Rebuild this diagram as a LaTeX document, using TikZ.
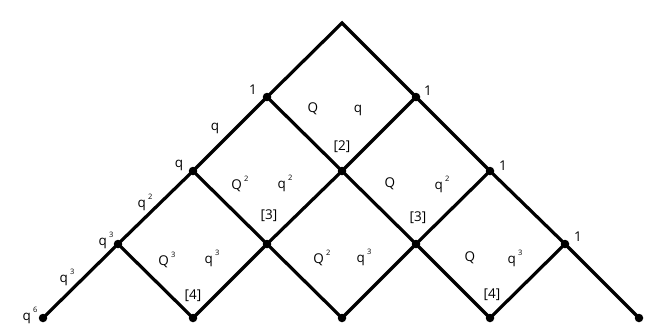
\documentclass[tikz,border=0pt]{standalone}
\usepackage{fontspec}
\setmainfont{Open Sans}
\newcommand\sps[1]{\,\raisebox{0.6em}{\fontsize{7.5}{8}\selectfont #1}}
\begin{document}
\begin{tikzpicture}[x=1pt,y=-1pt,
  edge/.style={line width=3.2pt,line cap=round,line join=miter},
  dot/.style={circle,fill=black,inner sep=0pt,minimum size=8.5pt},
  lbl/.style={inner sep=0pt,font=\fontsize{13.5}{15}\selectfont}]
\useasboundingbox (0,0) rectangle (651,333);
\fill[white] (0,0) rectangle (651,333);
% vertices
\coordinate (t) at (342,23);
\coordinate (a1) at (267,97);  \coordinate (a2) at (416,97);
\coordinate (b1) at (193,171); \coordinate (b2) at (342,171); \coordinate (b3) at (490,171);
\coordinate (c1) at (118,244); \coordinate (c2) at (267,244); \coordinate (c3) at (416,244); \coordinate (c4) at (565,244);
\coordinate (d1) at (43,318);  \coordinate (d2) at (193,318); \coordinate (d3) at (342,318); \coordinate (d4) at (490,318); \coordinate (d5) at (639,318);
% edges
\draw[edge] (d1) -- (c1) -- (b1) -- (a1) -- (t) -- (a2) -- (b3) -- (c4) -- (d5);
\draw[edge] (a2) -- (b2) -- (c2) -- (d2);
\draw[edge] (a1) -- (b2) -- (c3) -- (d4);
\draw[edge] (b3) -- (c3) -- (d3);
\draw[edge] (b1) -- (c2) -- (d3);
\draw[edge] (c4) -- (d4);
\draw[edge] (c1) -- (d2);
% dots
\foreach \p in {a1,a2,b1,b2,b3,c1,c2,c3,c4,d1,d2,d3,d4,d5}
  \node[dot] (n\p) at (\p) {};
% outer labels
\node[lbl] (l1) at (253,90) {1};
\node[lbl] (l2) at (428,91) {1};
\node[lbl] (l3) at (503,166) {1};
\node[lbl] (l4) at (578,237) {1};
\node[lbl] (l5) at (179,165) {q};
\node[lbl] (l6) at (215,128) {q};
\node[lbl] (l7) at (145,202) {q\sps{2}};
\node[lbl] (l8) at (106,240) {q\sps{3}};
\node[lbl] (l9) at (67,277) {q\sps{3}};
\node[lbl] (l10) at (30,315) {q\sps{6}};
% inner labels
\node[lbl] (m1) at (313,109) {Q};
\node[lbl] (m2) at (358,110) {q};
\node[lbl] (m3) at (342,147) {[2]};
\node[lbl] (m4) at (240,184) {Q\sps{2}};
\node[lbl] (m5) at (285,183) {q\sps{2}};
\node[lbl] (m6) at (269,216) {[3]};
\node[lbl] (m7) at (390,184) {Q};
\node[lbl] (m8) at (442,184) {q\sps{2}};
\node[lbl] (m9) at (418,218) {[3]};
\node[lbl] (m10) at (167,260) {Q\sps{3}};
\node[lbl] (m11) at (212,258) {q\sps{3}};
\node[lbl] (m12) at (193,296) {[4]};
\node[lbl] (m13) at (322,258) {Q\sps{2}};
\node[lbl] (m14) at (364,257) {q\sps{3}};
\node[lbl] (m15) at (470,258) {Q};
\node[lbl] (m16) at (515,258) {q\sps{3}};
\node[lbl] (m17) at (492,295) {[4]};
\end{tikzpicture}
\end{document}
